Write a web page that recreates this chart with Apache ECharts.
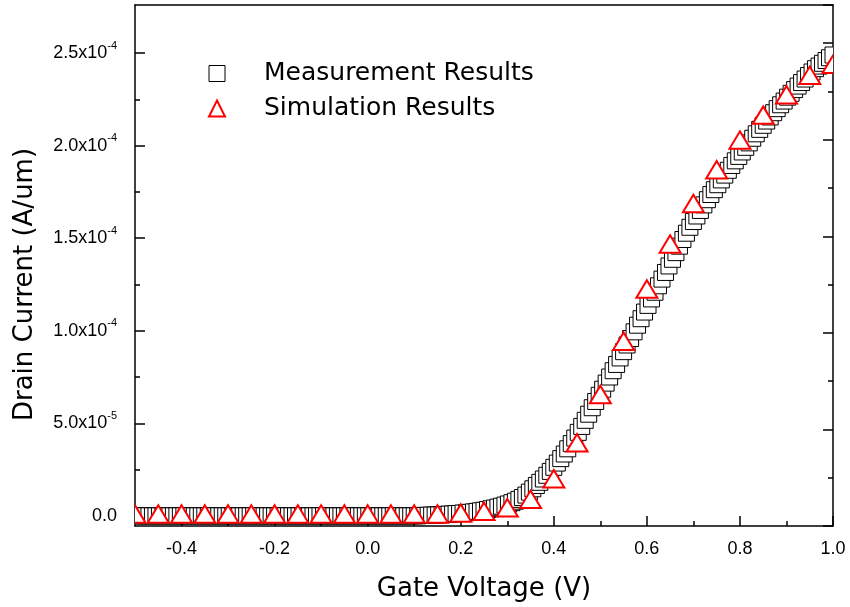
<!DOCTYPE html>
<html>
<head>
<meta charset="utf-8">
<title>Drain Current vs Gate Voltage</title>
<script src="https://cdn.jsdelivr.net/npm/echarts@6/dist/echarts.min.js"></script>
<style>
  html, body { margin: 0; padding: 0; background: #fff; }
  #chart { width: 850px; height: 607px; }
</style>
</head>
<body>
<div id="chart"></div>
<script>
// Current values are given in units of 1e-4 A/um
const CURRENT_UNIT = 1e-4;

// Measured transfer curve: 201-point sweep of the gate from -0.5 V to 1.0 V
const MEAS_V_START = -0.5;
const MEAS_V_STEP = 0.0075;
const measCurrent = [
  // -0.5 V ... 0.1075 V (off state)
  0, 0, 0, 0, 0, 0, 0, 0, 0, 0,
  0, 0, 0, 0, 0, 0, 0, 0, 0, 0,
  0, 0, 0, 0, 0, 0, 0, 0, 0, 0,
  0, 0, 0, 0, 0, 0, 0, 0, 0, 0,
  0, 0, 0, 0, 0, 0, 0, 0, 0, 0,
  0, 0, 0, 0, 0, 0, 0, 0, 0, 0,
  0, 0, 0, 0, 0, 0, 0, 0, 0, 0,
  0, 0, 0, 0, 0, 0, 0, 0, 0, 0,
  0, 0,
  // 0.115 V ... 1.0 V
  0.002, 0.002, 0.003, 0.004, 0.004, 0.005, 0.007, 0.008, 0.009, 0.010,
  0.012, 0.013, 0.015, 0.017, 0.019, 0.021, 0.024, 0.027, 0.030, 0.034,
  0.038, 0.042, 0.047, 0.052, 0.058, 0.064, 0.071, 0.079, 0.089, 0.099,
  0.112, 0.128, 0.146, 0.164, 0.181, 0.199, 0.219, 0.240, 0.262, 0.285,
  0.309, 0.334, 0.362, 0.390, 0.420, 0.451, 0.483, 0.516, 0.549, 0.584,
  0.618, 0.651, 0.684, 0.717, 0.750, 0.784, 0.818, 0.853, 0.887, 0.923,
  0.958, 0.994, 1.030, 1.065, 1.101, 1.137, 1.172, 1.208, 1.243, 1.279,
  1.315, 1.350, 1.386, 1.422, 1.457, 1.493, 1.527, 1.559, 1.590, 1.620,
  1.650, 1.680, 1.708, 1.736, 1.762, 1.789, 1.815, 1.841, 1.867, 1.893,
  1.918, 1.942, 1.966, 1.991, 2.015, 2.040, 2.064, 2.088, 2.110, 2.133,
  2.155, 2.178, 2.200, 2.221, 2.241, 2.262, 2.283, 2.303, 2.322, 2.341,
  2.360, 2.379, 2.398, 2.416, 2.430, 2.445, 2.460, 2.475, 2.490
];

// Simulated transfer curve
const simVoltage = [
  -0.50, -0.45, -0.40, -0.35, -0.30, -0.25, -0.20, -0.15, -0.10, -0.05,
  0.00, 0.05, 0.10, 0.15, 0.20, 0.25, 0.30, 0.35, 0.40, 0.45,
  0.50, 0.55, 0.60, 0.65, 0.70, 0.75, 0.80, 0.85, 0.90, 0.95, 1.00
];
const simCurrent = [
  0.010, 0.010, 0.010, 0.010, 0.010, 0.010, 0.010, 0.010, 0.010, 0.010,
  0.010, 0.010, 0.010, 0.010, 0.015, 0.025, 0.044, 0.089, 0.200, 0.395,
  0.656, 0.943, 1.226, 1.469, 1.688, 1.870, 2.030, 2.165, 2.275, 2.380, 2.440
];

// Axis ticks and labels
const X_MIN = -0.5, X_MAX = 1.0;
const Y_MIN = -0.055e-4, Y_MAX = 2.76e-4;
const xMajorTicks = [-0.4, -0.2, 0.0, 0.2, 0.4, 0.6, 0.8, 1.0];
const xMinorTicks = [-0.3, -0.1, 0.1, 0.3, 0.5, 0.7, 0.9];
const yMajorTicks = [0, 5e-5, 1.0e-4, 1.5e-4, 2.0e-4, 2.5e-4];
const yTickLabels = ['0.0', '5.0x10^-5', '1.0x10^-4', '1.5x10^-4', '2.0x10^-4', '2.5x10^-4'];
const yMinorTicks = [2.5e-5, 7.5e-5, 1.25e-4, 1.75e-4, 2.25e-4];

const seriesNames = ['Measurement Results', 'Simulation Results'];

// Build [voltage, current] pairs
const measData = measCurrent.map(function (c, i) {
  return [Math.round((MEAS_V_START + i * MEAS_V_STEP) * 10000) / 10000, c * CURRENT_UNIT];
});
const simData = simCurrent.map(function (c, i) {
  return [simVoltage[i], c * CURRENT_UNIT];
});

const SQUARE_SIZE = 16;
const TRI_W = 21, TRI_H = 17.5;
const TICK_FONT = 'Liberation Sans';
const TITLE_FONT = 'DejaVu Sans';

function squareItem(params, api) {
  const p = api.coord([api.value(0), api.value(1)]);
  return {
    type: 'rect',
    shape: { x: p[0] - SQUARE_SIZE / 2, y: p[1] - SQUARE_SIZE / 2, width: SQUARE_SIZE, height: SQUARE_SIZE },
    style: { fill: '#ffffff', stroke: '#000000', lineWidth: 1 }
  };
}

function triangleItem(params, api) {
  const p = api.coord([api.value(0), api.value(1)]);
  return {
    type: 'polygon',
    shape: {
      points: [
        [p[0], p[1] - TRI_H / 2],
        [p[0] + TRI_W / 2, p[1] + TRI_H / 2],
        [p[0] - TRI_W / 2, p[1] + TRI_H / 2]
      ]
    },
    style: { fill: '#ffffff', stroke: '#ff0000', lineWidth: 2 }
  };
}

function yLabel(value) {
  let k = 0;
  yMajorTicks.forEach(function (t, i) {
    if (Math.abs(t - value) < Math.abs(yMajorTicks[k] - value)) k = i;
  });
  const parts = yTickLabels[k].split('^');
  return parts.length > 1 ? '{b|' + parts[0] + '}{s|' + parts[1] + '}' : '{b|' + parts[0] + '}';
}

const axisLineStyle = { color: '#000', width: 1.5 };
const tickLine = { color: '#000', width: 1.5 };

const chart = echarts.init(document.getElementById('chart'), null, { renderer: 'canvas' });

chart.setOption({
  backgroundColor: '#ffffff',
  animation: false,
  grid: { left: 135, right: 17, top: 5, bottom: 81, containLabel: false },
  legend: {
    orient: 'vertical',
    left: 203,
    top: 55,
    itemWidth: 16,
    itemHeight: 16,
    itemGap: 8,
    selectedMode: false,
    textStyle: {
      fontFamily: TITLE_FONT, fontSize: 25, color: '#000', lineHeight: 27,
      padding: [0, 0, 0, 34]
    },
    data: [
      { name: seriesNames[0], icon: 'rect', itemStyle: { color: '#ffffff', borderColor: '#000000', borderWidth: 1 } },
      { name: seriesNames[1], icon: 'triangle', itemStyle: { color: '#ffffff', borderColor: '#ff0000', borderWidth: 2 } }
    ]
  },
  xAxis: [
    {
      type: 'value', position: 'bottom', min: X_MIN, max: X_MAX,
      axisLine: { show: true, onZero: false, lineStyle: axisLineStyle },
      axisTick: { show: true, inside: true, length: 10, lineStyle: tickLine, customValues: xMajorTicks },
      axisLabel: {
        show: true, customValues: xMajorTicks, margin: 14,
        fontFamily: TICK_FONT, fontSize: 18, color: '#000',
        formatter: function (v) { return v.toFixed(1); }
      },
      splitLine: { show: false },
      name: 'Gate Voltage (V)',
      nameLocation: 'middle',
      nameGap: 50,
      nameTextStyle: { fontFamily: TITLE_FONT, fontSize: 26, color: '#000' }
    },
    {
      type: 'value', position: 'bottom', min: X_MIN, max: X_MAX,
      axisLine: { show: false, onZero: false },
      axisTick: { show: true, inside: true, length: 5, lineStyle: tickLine, customValues: xMinorTicks },
      axisLabel: { show: false },
      splitLine: { show: false }
    },
    {
      type: 'value', position: 'top', min: X_MIN, max: X_MAX,
      axisLine: { show: true, onZero: false, lineStyle: axisLineStyle },
      axisTick: { show: false },
      axisLabel: { show: false },
      splitLine: { show: false }
    }
  ],
  yAxis: [
    {
      type: 'value', position: 'left', min: Y_MIN, max: Y_MAX,
      axisLine: { show: true, onZero: false, lineStyle: axisLineStyle },
      axisTick: { show: true, inside: true, length: 10, lineStyle: tickLine, customValues: yMajorTicks },
      axisLabel: {
        show: true, customValues: yMajorTicks, margin: 18,
        formatter: yLabel,
        rich: {
          b: { fontFamily: TICK_FONT, fontSize: 18, color: '#000', lineHeight: 26 },
          s: { fontFamily: TICK_FONT, fontSize: 11, color: '#000', lineHeight: 10, verticalAlign: 'top' }
        }
      },
      splitLine: { show: false },
      name: 'Drain Current (A/um)',
      nameLocation: 'middle',
      nameRotate: 90,
      nameGap: 97,
      nameTextStyle: { fontFamily: TITLE_FONT, fontSize: 26, color: '#000', padding: [0, 38, 0, 0] }
    },
    {
      type: 'value', position: 'left', min: Y_MIN, max: Y_MAX,
      axisLine: { show: false, onZero: false },
      axisTick: { show: true, inside: true, length: 5, lineStyle: tickLine, customValues: yMinorTicks },
      axisLabel: { show: false },
      splitLine: { show: false }
    },
    {
      type: 'value', position: 'right', min: 0, max: 10.79, interval: 2,
      axisLine: { show: true, onZero: false, lineStyle: axisLineStyle },
      axisTick: { show: true, inside: true, length: 10, lineStyle: tickLine },
      minorTick: { show: true, splitNumber: 2, length: 5, lineStyle: tickLine },
      axisLabel: { show: false },
      splitLine: { show: false },
      minorSplitLine: { show: false }
    }
  ],
  series: [
    {
      name: seriesNames[0],
      type: 'custom',
      xAxisIndex: 0, yAxisIndex: 0,
      clip: true,
      renderItem: squareItem,
      itemStyle: { color: '#ffffff', borderColor: '#000000', borderWidth: 1 },
      encode: { x: 0, y: 1 },
      data: measData,
      z: 2
    },
    {
      name: seriesNames[1],
      type: 'custom',
      xAxisIndex: 0, yAxisIndex: 0,
      clip: true,
      renderItem: triangleItem,
      itemStyle: { color: '#ffffff', borderColor: '#ff0000', borderWidth: 2 },
      encode: { x: 0, y: 1 },
      data: simData,
      z: 3
    }
  ]
});
</script>
</body>
</html>
